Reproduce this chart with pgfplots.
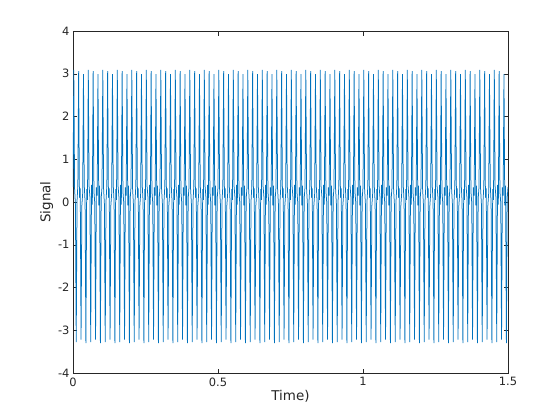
\documentclass[border=0pt]{standalone}
\usepackage{pgfplots}
\pgfplotsset{compat=1.18}
\usepackage{fontspec}
\setmainfont{DejaVu Sans}
\definecolor{mblue}{rgb}{0,0.447,0.741}
\definecolor{axgray}{rgb}{0.15,0.15,0.15}
\begin{document}
\begin{tikzpicture}[x=1bp,y=1bp]
\begin{axis}[
  at={(0,0)}, anchor=south west,
  scale only axis, width=435bp, height=342bp,
  xmin=0, xmax=1.5, ymin=-4, ymax=4,
  xtick={0,0.5,1,1.5}, ytick={-4,-3,-2,-1,0,1,2,3,4},
  tick align=inside, major tick length=4.5bp,
  axis line style={axgray, line width=0.5bp},
  tick style={axgray, line width=0.5bp},
  every tick label/.append style={font=\fontsize{11.5}{13}\selectfont, text=axgray},
  /pgf/number format/assume math mode=true,
  xticklabel style={yshift=-1bp},
  xlabel={Time)}, ylabel={Signal},
  label style={font=\fontsize{13.5}{15}\selectfont, text=axgray},
  xlabel style={yshift=3bp},
  ylabel style={yshift=-2bp},
  clip=true,
]
\addplot[mblue, line width=0.75bp, mark=none] coordinates {
(0,0.35)(0.002778,3.09)(0.005556,0.30)(0.008333,-0.05)(0.011111,-3.28)(0.013889,0.02)(0.016667,0.38)(0.019444,3.06)(0.022222,0.10)(0.025,0.32)(0.027778,-3.22)(0.030556,-0.08)(0.033333,0.20)(0.036111,2.99)(0.038889,0.38)(0.041667,0.00)(0.044444,-3.30)(0.047222,0.30)
(0.05,0.05)(0.052778,3.09)(0.055556,0.36)(0.058333,0.12)(0.061111,-3.28)(0.063889,0.40)(0.066667,-0.06)(0.069444,3.06)(0.072222,0.25)(0.075,-0.02)(0.077778,-3.22)(0.080556,0.34)(0.083333,0.15)(0.086111,2.99)(0.088889,-0.08)(0.091667,0.38)(0.094444,-3.30)(0.097222,0.08)
(0.1,0.35)(0.102778,3.09)(0.105556,0.30)(0.108333,-0.05)(0.111111,-3.28)(0.113889,0.02)(0.116667,0.38)(0.119444,3.06)(0.122222,0.10)(0.125,0.32)(0.127778,-3.22)(0.130556,-0.08)(0.133333,0.20)(0.136111,2.99)(0.138889,0.38)(0.141667,0.00)(0.144444,-3.30)(0.147222,0.30)
(0.15,0.05)(0.152778,3.09)(0.155556,0.36)(0.158333,0.12)(0.161111,-3.28)(0.163889,0.40)(0.166667,-0.06)(0.169444,3.06)(0.172222,0.25)(0.175,-0.02)(0.177778,-3.22)(0.180556,0.34)(0.183333,0.15)(0.186111,2.99)(0.188889,-0.08)(0.191667,0.38)(0.194444,-3.30)(0.197222,0.08)
(0.2,0.35)(0.202778,3.09)(0.205556,0.30)(0.208333,-0.05)(0.211111,-3.28)(0.213889,0.02)(0.216667,0.38)(0.219444,3.06)(0.222222,0.10)(0.225,0.32)(0.227778,-3.22)(0.230556,-0.08)(0.233333,0.20)(0.236111,2.99)(0.238889,0.38)(0.241667,0.00)(0.244444,-3.30)(0.247222,0.30)
(0.25,0.05)(0.252778,3.09)(0.255556,0.36)(0.258333,0.12)(0.261111,-3.28)(0.263889,0.40)(0.266667,-0.06)(0.269444,3.06)(0.272222,0.25)(0.275,-0.02)(0.277778,-3.22)(0.280556,0.34)(0.283333,0.15)(0.286111,2.99)(0.288889,-0.08)(0.291667,0.38)(0.294444,-3.30)(0.297222,0.08)
(0.3,0.35)(0.302778,3.09)(0.305556,0.30)(0.308333,-0.05)(0.311111,-3.28)(0.313889,0.02)(0.316667,0.38)(0.319444,3.06)(0.322222,0.10)(0.325,0.32)(0.327778,-3.22)(0.330556,-0.08)(0.333333,0.20)(0.336111,2.99)(0.338889,0.38)(0.341667,0.00)(0.344444,-3.30)(0.347222,0.30)
(0.35,0.05)(0.352778,3.09)(0.355556,0.36)(0.358333,0.12)(0.361111,-3.28)(0.363889,0.40)(0.366667,-0.06)(0.369444,3.06)(0.372222,0.25)(0.375,-0.02)(0.377778,-3.22)(0.380556,0.34)(0.383333,0.15)(0.386111,2.99)(0.388889,-0.08)(0.391667,0.38)(0.394444,-3.30)(0.397222,0.08)
(0.4,0.35)(0.402778,3.09)(0.405556,0.30)(0.408333,-0.05)(0.411111,-3.28)(0.413889,0.02)(0.416667,0.38)(0.419444,3.06)(0.422222,0.10)(0.425,0.32)(0.427778,-3.22)(0.430556,-0.08)(0.433333,0.20)(0.436111,2.99)(0.438889,0.38)(0.441667,0.00)(0.444444,-3.30)(0.447222,0.30)
(0.45,0.05)(0.452778,3.09)(0.455556,0.36)(0.458333,0.12)(0.461111,-3.28)(0.463889,0.40)(0.466667,-0.06)(0.469444,3.06)(0.472222,0.25)(0.475,-0.02)(0.477778,-3.22)(0.480556,0.34)(0.483333,0.15)(0.486111,2.99)(0.488889,-0.08)(0.491667,0.38)(0.494444,-3.30)(0.497222,0.08)
(0.5,0.35)(0.502778,3.09)(0.505556,0.30)(0.508333,-0.05)(0.511111,-3.28)(0.513889,0.02)(0.516667,0.38)(0.519444,3.06)(0.522222,0.10)(0.525,0.32)(0.527778,-3.22)(0.530556,-0.08)(0.533333,0.20)(0.536111,2.99)(0.538889,0.38)(0.541667,0.00)(0.544444,-3.30)(0.547222,0.30)
(0.55,0.05)(0.552778,3.09)(0.555556,0.36)(0.558333,0.12)(0.561111,-3.28)(0.563889,0.40)(0.566667,-0.06)(0.569444,3.06)(0.572222,0.25)(0.575,-0.02)(0.577778,-3.22)(0.580556,0.34)(0.583333,0.15)(0.586111,2.99)(0.588889,-0.08)(0.591667,0.38)(0.594444,-3.30)(0.597222,0.08)
(0.6,0.35)(0.602778,3.09)(0.605556,0.30)(0.608333,-0.05)(0.611111,-3.28)(0.613889,0.02)(0.616667,0.38)(0.619444,3.06)(0.622222,0.10)(0.625,0.32)(0.627778,-3.22)(0.630556,-0.08)(0.633333,0.20)(0.636111,2.99)(0.638889,0.38)(0.641667,0.00)(0.644444,-3.30)(0.647222,0.30)
(0.65,0.05)(0.652778,3.09)(0.655556,0.36)(0.658333,0.12)(0.661111,-3.28)(0.663889,0.40)(0.666667,-0.06)(0.669444,3.06)(0.672222,0.25)(0.675,-0.02)(0.677778,-3.22)(0.680556,0.34)(0.683333,0.15)(0.686111,2.99)(0.688889,-0.08)(0.691667,0.38)(0.694444,-3.30)(0.697222,0.08)
(0.7,0.35)(0.702778,3.09)(0.705556,0.30)(0.708333,-0.05)(0.711111,-3.28)(0.713889,0.02)(0.716667,0.38)(0.719444,3.06)(0.722222,0.10)(0.725,0.32)(0.727778,-3.22)(0.730556,-0.08)(0.733333,0.20)(0.736111,2.99)(0.738889,0.38)(0.741667,0.00)(0.744444,-3.30)(0.747222,0.30)
(0.75,0.05)(0.752778,3.09)(0.755556,0.36)(0.758333,0.12)(0.761111,-3.28)(0.763889,0.40)(0.766667,-0.06)(0.769444,3.06)(0.772222,0.25)(0.775,-0.02)(0.777778,-3.22)(0.780556,0.34)(0.783333,0.15)(0.786111,2.99)(0.788889,-0.08)(0.791667,0.38)(0.794444,-3.30)(0.797222,0.08)
(0.8,0.35)(0.802778,3.09)(0.805556,0.30)(0.808333,-0.05)(0.811111,-3.28)(0.813889,0.02)(0.816667,0.38)(0.819444,3.06)(0.822222,0.10)(0.825,0.32)(0.827778,-3.22)(0.830556,-0.08)(0.833333,0.20)(0.836111,2.99)(0.838889,0.38)(0.841667,0.00)(0.844444,-3.30)(0.847222,0.30)
(0.85,0.05)(0.852778,3.09)(0.855556,0.36)(0.858333,0.12)(0.861111,-3.28)(0.863889,0.40)(0.866667,-0.06)(0.869444,3.06)(0.872222,0.25)(0.875,-0.02)(0.877778,-3.22)(0.880556,0.34)(0.883333,0.15)(0.886111,2.99)(0.888889,-0.08)(0.891667,0.38)(0.894444,-3.30)(0.897222,0.08)
(0.9,0.35)(0.902778,3.09)(0.905556,0.30)(0.908333,-0.05)(0.911111,-3.28)(0.913889,0.02)(0.916667,0.38)(0.919444,3.06)(0.922222,0.10)(0.925,0.32)(0.927778,-3.22)(0.930556,-0.08)(0.933333,0.20)(0.936111,2.99)(0.938889,0.38)(0.941667,0.00)(0.944444,-3.30)(0.947222,0.30)
(0.95,0.05)(0.952778,3.09)(0.955556,0.36)(0.958333,0.12)(0.961111,-3.28)(0.963889,0.40)(0.966667,-0.06)(0.969444,3.06)(0.972222,0.25)(0.975,-0.02)(0.977778,-3.22)(0.980556,0.34)(0.983333,0.15)(0.986111,2.99)(0.988889,-0.08)(0.991667,0.38)(0.994444,-3.30)(0.997222,0.08)
(1.0,0.35)(1.002778,3.09)(1.005556,0.30)(1.008333,-0.05)(1.011111,-3.28)(1.013889,0.02)(1.016667,0.38)(1.019444,3.06)(1.022222,0.10)(1.025,0.32)(1.027778,-3.22)(1.030556,-0.08)(1.033333,0.20)(1.036111,2.99)(1.038889,0.38)(1.041667,0.00)(1.044444,-3.30)(1.047222,0.30)
(1.05,0.05)(1.052778,3.09)(1.055556,0.36)(1.058333,0.12)(1.061111,-3.28)(1.063889,0.40)(1.066667,-0.06)(1.069444,3.06)(1.072222,0.25)(1.075,-0.02)(1.077778,-3.22)(1.080556,0.34)(1.083333,0.15)(1.086111,2.99)(1.088889,-0.08)(1.091667,0.38)(1.094444,-3.30)(1.097222,0.08)
(1.1,0.35)(1.102778,3.09)(1.105556,0.30)(1.108333,-0.05)(1.111111,-3.28)(1.113889,0.02)(1.116667,0.38)(1.119444,3.06)(1.122222,0.10)(1.125,0.32)(1.127778,-3.22)(1.130556,-0.08)(1.133333,0.20)(1.136111,2.99)(1.138889,0.38)(1.141667,0.00)(1.144444,-3.30)(1.147222,0.30)
(1.15,0.05)(1.152778,3.09)(1.155556,0.36)(1.158333,0.12)(1.161111,-3.28)(1.163889,0.40)(1.166667,-0.06)(1.169444,3.06)(1.172222,0.25)(1.175,-0.02)(1.177778,-3.22)(1.180556,0.34)(1.183333,0.15)(1.186111,2.99)(1.188889,-0.08)(1.191667,0.38)(1.194444,-3.30)(1.197222,0.08)
(1.2,0.35)(1.202778,3.09)(1.205556,0.30)(1.208333,-0.05)(1.211111,-3.28)(1.213889,0.02)(1.216667,0.38)(1.219444,3.06)(1.222222,0.10)(1.225,0.32)(1.227778,-3.22)(1.230556,-0.08)(1.233333,0.20)(1.236111,2.99)(1.238889,0.38)(1.241667,0.00)(1.244444,-3.30)(1.247222,0.30)
(1.25,0.05)(1.252778,3.09)(1.255556,0.36)(1.258333,0.12)(1.261111,-3.28)(1.263889,0.40)(1.266667,-0.06)(1.269444,3.06)(1.272222,0.25)(1.275,-0.02)(1.277778,-3.22)(1.280556,0.34)(1.283333,0.15)(1.286111,2.99)(1.288889,-0.08)(1.291667,0.38)(1.294444,-3.30)(1.297222,0.08)
(1.3,0.35)(1.302778,3.09)(1.305556,0.30)(1.308333,-0.05)(1.311111,-3.28)(1.313889,0.02)(1.316667,0.38)(1.319444,3.06)(1.322222,0.10)(1.325,0.32)(1.327778,-3.22)(1.330556,-0.08)(1.333333,0.20)(1.336111,2.99)(1.338889,0.38)(1.341667,0.00)(1.344444,-3.30)(1.347222,0.30)
(1.35,0.05)(1.352778,3.09)(1.355556,0.36)(1.358333,0.12)(1.361111,-3.28)(1.363889,0.40)(1.366667,-0.06)(1.369444,3.06)(1.372222,0.25)(1.375,-0.02)(1.377778,-3.22)(1.380556,0.34)(1.383333,0.15)(1.386111,2.99)(1.388889,-0.08)(1.391667,0.38)(1.394444,-3.30)(1.397222,0.08)
(1.4,0.35)(1.402778,3.09)(1.405556,0.30)(1.408333,-0.05)(1.411111,-3.28)(1.413889,0.02)(1.416667,0.38)(1.419444,3.06)(1.422222,0.10)(1.425,0.32)(1.427778,-3.22)(1.430556,-0.08)(1.433333,0.20)(1.436111,2.99)(1.438889,0.38)(1.441667,0.00)(1.444444,-3.30)(1.447222,0.30)
(1.45,0.05)(1.452778,3.09)(1.455556,0.36)(1.458333,0.12)(1.461111,-3.28)(1.463889,0.40)(1.466667,-0.06)(1.469444,3.06)(1.472222,0.25)(1.475,-0.02)(1.477778,-3.22)(1.480556,0.34)(1.483333,0.15)(1.486111,2.99)(1.488889,-0.08)(1.491667,0.38)(1.494444,-3.30)(1.497222,0.08)
(1.5,0.35)
};
\end{axis}
\path[use as bounding box] (-73bp,-47bp) rectangle (487bp,373bp);
\end{tikzpicture}
\end{document}
